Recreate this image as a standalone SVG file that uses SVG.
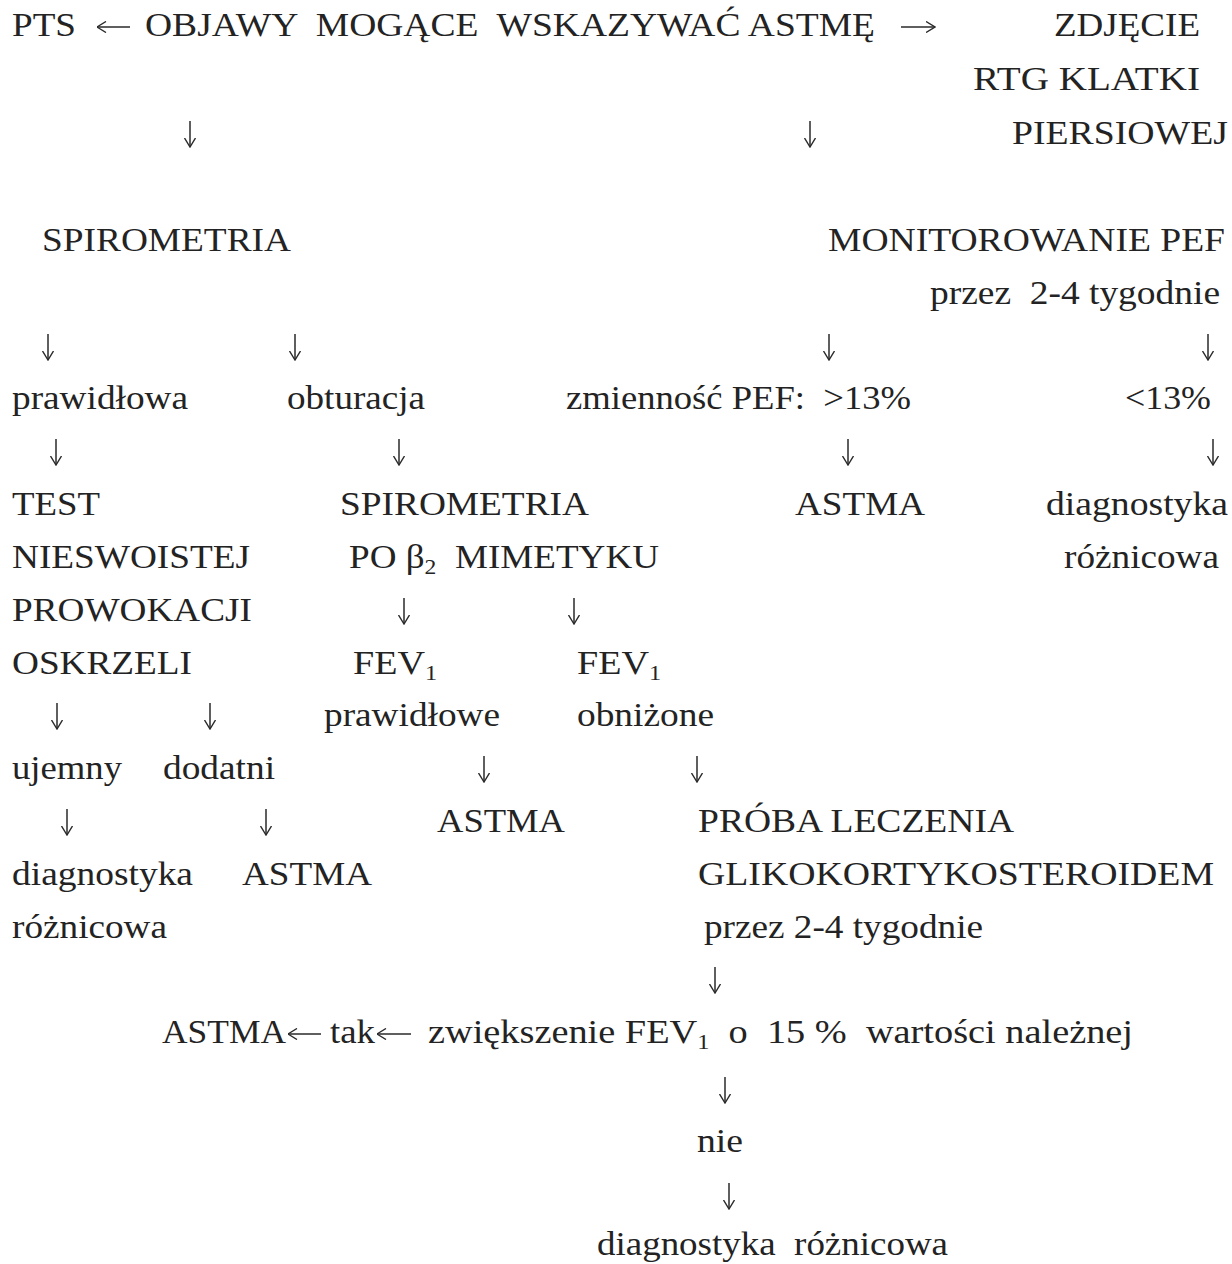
<svg xmlns="http://www.w3.org/2000/svg" width="1232" height="1264" viewBox="0 0 1232 1264">
<style>
text{font-family:"Liberation Serif","Times New Roman",serif;font-size:33px;fill:#232323;white-space:pre}
.s{font-size:21px}
.c{fill:none;stroke:#2a2a2a;stroke-width:1.5;marker-end:url(#ah)}
</style>
<defs>
<marker id="ah" viewBox="0 0 10 12" refX="9.5" refY="6" markerWidth="10" markerHeight="12" markerUnits="userSpaceOnUse" orient="auto">
<path d="M0.5,0.5 L9.5,6 L0.5,11.5" fill="none" stroke="#2a2a2a" stroke-width="1.4"/>
</marker>
</defs>
<rect width="1232" height="1264" fill="#ffffff"/>
<g id="connectors">
<path class="c" d="M130,27 H97"/>
<path class="c" d="M901,27 H935"/>
<path class="c" d="M190,121 V147"/>
<path class="c" d="M810,121 V147"/>
<path class="c" d="M48,334 V360"/>
<path class="c" d="M295,334 V360"/>
<path class="c" d="M829,334 V360"/>
<path class="c" d="M1208,334 V360"/>
<path class="c" d="M56,439 V465"/>
<path class="c" d="M399,439 V465"/>
<path class="c" d="M848,439 V465"/>
<path class="c" d="M1213,439 V465"/>
<path class="c" d="M404,598 V624"/>
<path class="c" d="M574,598 V624"/>
<path class="c" d="M57,703 V729"/>
<path class="c" d="M210,703 V729"/>
<path class="c" d="M484,756 V782"/>
<path class="c" d="M697,756 V782"/>
<path class="c" d="M67,809 V835"/>
<path class="c" d="M266,809 V835"/>
<path class="c" d="M715,967 V993"/>
<path class="c" d="M321,1034 H288"/>
<path class="c" d="M411,1034 H377"/>
<path class="c" d="M725,1077 V1103"/>
<path class="c" d="M729,1183 V1209"/>
</g>
<g id="n-pts"><text x="12" y="36" textLength="64" lengthAdjust="spacingAndGlyphs">PTS</text></g>
<g id="n-objawy"><text x="145" y="36" textLength="730" lengthAdjust="spacingAndGlyphs">OBJAWY  MOGĄCE  WSKAZYWAĆ ASTMĘ</text></g>
<g id="n-rtg">
<text x="1054" y="36" textLength="146" lengthAdjust="spacingAndGlyphs">ZDJĘCIE</text>
<text x="973" y="90" textLength="227" lengthAdjust="spacingAndGlyphs">RTG KLATKI</text>
<text x="1012" y="144" textLength="216" lengthAdjust="spacingAndGlyphs">PIERSIOWEJ</text>
</g>
<g id="n-spiro"><text x="42" y="251" textLength="249" lengthAdjust="spacingAndGlyphs">SPIROMETRIA</text></g>
<g id="n-pef">
<text x="828" y="251" textLength="397" lengthAdjust="spacingAndGlyphs">MONITOROWANIE PEF</text>
<text x="930" y="304" textLength="290" lengthAdjust="spacingAndGlyphs">przez  2-4 tygodnie</text>
</g>
<g id="n-prawidlowa"><text x="12" y="409" textLength="176" lengthAdjust="spacingAndGlyphs">prawidłowa</text></g>
<g id="n-obturacja"><text x="287" y="409" textLength="138" lengthAdjust="spacingAndGlyphs">obturacja</text></g>
<g id="n-zm13"><text x="566" y="409" textLength="345" lengthAdjust="spacingAndGlyphs">zmienność PEF:  &gt;13%</text></g>
<g id="n-lt13"><text x="1125" y="409" textLength="86" lengthAdjust="spacingAndGlyphs">&lt;13%</text></g>
<g id="n-test">
<text x="12" y="515" textLength="88" lengthAdjust="spacingAndGlyphs">TEST</text>
<text x="12" y="568" textLength="238" lengthAdjust="spacingAndGlyphs">NIESWOISTEJ</text>
<text x="12" y="621" textLength="240" lengthAdjust="spacingAndGlyphs">PROWOKACJI</text>
<text x="12" y="674" textLength="180" lengthAdjust="spacingAndGlyphs">OSKRZELI</text>
</g>
<g id="n-spiro2">
<text x="340" y="515" textLength="249" lengthAdjust="spacingAndGlyphs">SPIROMETRIA</text>
<text x="349" y="568" textLength="310" lengthAdjust="spacingAndGlyphs">PO β<tspan class="s" dy="6">2</tspan><tspan dy="-6">  MIMETYKU</tspan></text>
</g>
<g id="n-astma-pef"><text x="795" y="515" textLength="130" lengthAdjust="spacingAndGlyphs">ASTMA</text></g>
<g id="n-diag-pef">
<text x="1046" y="515" textLength="182" lengthAdjust="spacingAndGlyphs">diagnostyka</text>
<text x="1064" y="568" textLength="155" lengthAdjust="spacingAndGlyphs">różnicowa</text>
</g>
<g id="n-fev-ok">
<text x="353" y="674" textLength="84" lengthAdjust="spacingAndGlyphs">FEV<tspan class="s" dy="6">1</tspan></text>
<text x="324" y="726" textLength="176" lengthAdjust="spacingAndGlyphs">prawidłowe</text>
</g>
<g id="n-fev-low">
<text x="577" y="674" textLength="84" lengthAdjust="spacingAndGlyphs">FEV<tspan class="s" dy="6">1</tspan></text>
<text x="577" y="726" textLength="137" lengthAdjust="spacingAndGlyphs">obniżone</text>
</g>
<g id="n-ujemny"><text x="12" y="779" textLength="110" lengthAdjust="spacingAndGlyphs">ujemny</text></g>
<g id="n-dodatni"><text x="163" y="779" textLength="112" lengthAdjust="spacingAndGlyphs">dodatni</text></g>
<g id="n-astma-fev"><text x="437" y="832" textLength="128" lengthAdjust="spacingAndGlyphs">ASTMA</text></g>
<g id="n-proba">
<text x="698" y="832" textLength="316" lengthAdjust="spacingAndGlyphs">PRÓBA LECZENIA</text>
<text x="698" y="885" textLength="516" lengthAdjust="spacingAndGlyphs">GLIKOKORTYKOSTEROIDEM</text>
<text x="704" y="938" textLength="279" lengthAdjust="spacingAndGlyphs">przez 2-4 tygodnie</text>
</g>
<g id="n-diag-test">
<text x="12" y="885" textLength="181" lengthAdjust="spacingAndGlyphs">diagnostyka</text>
<text x="12" y="938" textLength="155" lengthAdjust="spacingAndGlyphs">różnicowa</text>
</g>
<g id="n-astma-test"><text x="242" y="885" textLength="130" lengthAdjust="spacingAndGlyphs">ASTMA</text></g>
<g id="n-astma-final"><text x="162" y="1043" textLength="124" lengthAdjust="spacingAndGlyphs">ASTMA</text></g>
<g id="l-tak"><text x="330" y="1043" textLength="45" lengthAdjust="spacingAndGlyphs">tak</text></g>
<g id="n-zwiekszenie"><text x="428" y="1043" textLength="705" lengthAdjust="spacingAndGlyphs">zwiększenie FEV<tspan class="s" dy="6">1</tspan><tspan dy="-6">  o  15 %  wartości należnej</tspan></text></g>
<g id="l-nie"><text x="697" y="1152" textLength="46" lengthAdjust="spacingAndGlyphs">nie</text></g>
<g id="n-diag-final"><text x="597" y="1255" textLength="351" lengthAdjust="spacingAndGlyphs">diagnostyka  różnicowa</text></g>
</svg>
